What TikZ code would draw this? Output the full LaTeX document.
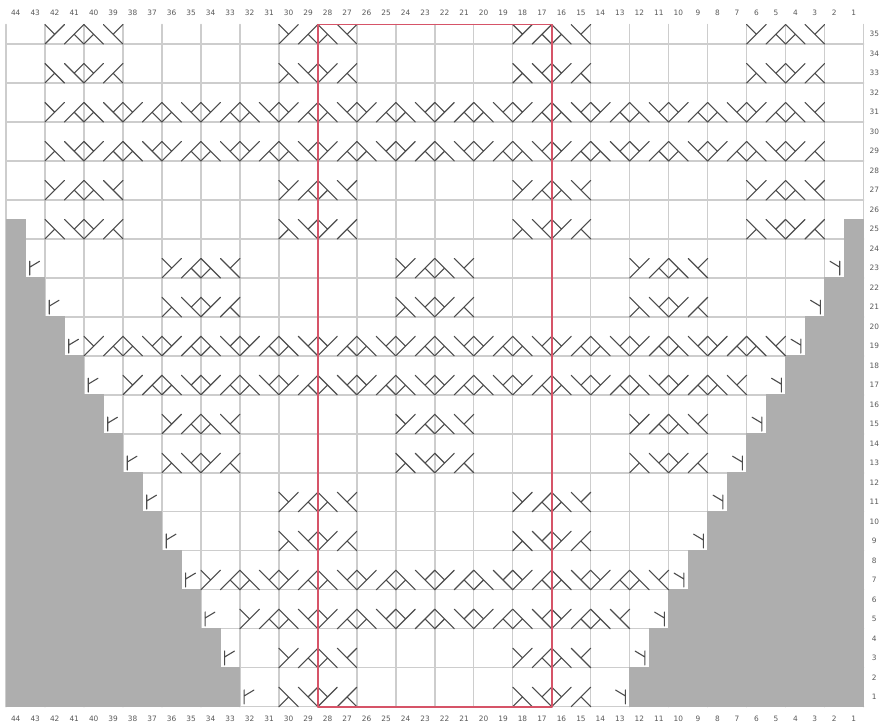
\documentclass[tikz,border=0pt]{standalone}
\usepackage{fontspec}
\setmainfont{DejaVu Sans}
\definecolor{gridgray}{RGB}{205,205,205}
\definecolor{blockgray}{RGB}{174,174,174}
\definecolor{linkred}{RGB}{214,84,104}
\tikzset{
	gridline/.style={color=gridgray,line width=1.05pt},
	cable/.style={color=black!70,line width=0.8pt},
	numlabel/.style={font=\fontsize{5.4}{6}\selectfont,text=black!65,inner sep=0pt,text height=4pt,text depth=0pt},
}
% one cell: long diagonal and short half
\newcommand{\cellA}[2]{\draw[cable] (44-#1,#2-1)--++(1,1) (44-#1,#2)--++(0.5,-0.5);}
\newcommand{\cellB}[2]{\draw[cable] (44-#1,#2-1)--++(1,1) (45-#1,#2-1)--++(-0.5,0.5);}
\newcommand{\cellC}[2]{\draw[cable] (44-#1,#2)--++(1,-1) (44-#1,#2-1)--++(0.5,0.5);}
\newcommand{\cellD}[2]{\draw[cable] (44-#1,#2)--++(1,-1) (45-#1,#2)--++(-0.5,-0.5);}
% row, first column, last column, start of the repeat
\newcommand{\cablerow}[4]{
	\foreach \k in {#3,...,#2}{
		\pgfmathtruncatemacro{\s}{mod(#2-\k+#4,4)}
		\ifcase\s \cellA{\k}{#1}\or \cellB{\k}{#1}\or \cellC{\k}{#1}\or \cellD{\k}{#1}\fi
	}
}
\begin{document}
\begin{tikzpicture}[x=0.5cm,y=0.5cm,line join=round,line cap=round]
	\useasboundingbox (-0.308,-0.924) rectangle (44.895,36.258);
	\fill[white] (-0.308,-0.924) rectangle (44.895,36.258);
	
	\draw[gridline] (0,0) grid (44,35);
	
	% blocked cells, left and right
	\foreach \c/\h in {44/25,43/22,42/20,41/18,40/16,39/14,38/12,37/10,36/8,35/6,34/4,33/2}{
		\fill[blockgray] (44-\c-0.01,-0.01) rectangle (45-\c+0.01,\h+0.02);
	}
	\foreach \c/\h in {1/25,2/22,3/20,4/18,5/16,6/14,7/12,8/10,9/8,10/6,11/4,12/2}{
		\fill[blockgray] (44-\c-0.01,-0.01) rectangle (45-\c+0.01,\h+0.02);
	}
	
	% numbers
	\foreach \c in {1,...,44}{
		\node[numlabel] (top\c) at (44.5-\c,35.6) {\c};
		\node[numlabel] (bot\c) at (44.5-\c,-0.6) {\c};
	}
	\foreach \r in {1,...,35}{
		\node[numlabel] (side\r) at (44.55,\r-0.5) {\r};
	}
	
	% short motifs
	\foreach \r/\t in {35/0,33/2,27/0,25/2}{
		\foreach \c in {42,30,18,6}{
			\pgfmathtruncatemacro{\e}{\c-3}
			\cablerow{\r}{\c}{\e}{\t}
		}
	}
	\foreach \r/\t in {23/0,21/2,15/0,13/2}{
		\foreach \c in {36,24,12}{
			\pgfmathtruncatemacro{\e}{\c-3}
			\cablerow{\r}{\c}{\e}{\t}
		}
	}
	\foreach \r/\t in {11/0,9/2,3/0,1/2}{
		\foreach \c in {30,18}{
			\pgfmathtruncatemacro{\e}{\c-3}
			\cablerow{\r}{\c}{\e}{\t}
		}
	}
	
	% long rows
	\cablerow{31}{42}{3}{0}
	\cablerow{29}{42}{3}{2}
	\cablerow{19}{40}{5}{0}
	\cablerow{17}{38}{7}{0}
	\cablerow{7}{34}{11}{0}
	\cablerow{5}{32}{13}{0}
	
	% edge stitches
	\foreach \c/\r in {43/23,42/21,41/19,40/17,39/15,38/13,37/11,36/9,35/7,34/5,33/3,32/1}{
		\draw[cable] (44.22-\c,\r-0.86)--++(0,0.72) (44.22-\c,\r-0.45)--++(0.5,0.3);
	}
	\foreach \c/\r in {2/23,3/21,4/19,5/17,6/15,7/13,8/11,9/9,10/7,11/5,12/3,13/1}{
		\draw[cable] (44.78-\c,\r-0.86)--++(0,0.72) (44.78-\c,\r-0.45)--++(-0.5,0.3);
	}
	
	\draw[color=linkred,line width=1.4pt,line cap=butt] (16,0) rectangle (28,35);
\end{tikzpicture}
\end{document}
